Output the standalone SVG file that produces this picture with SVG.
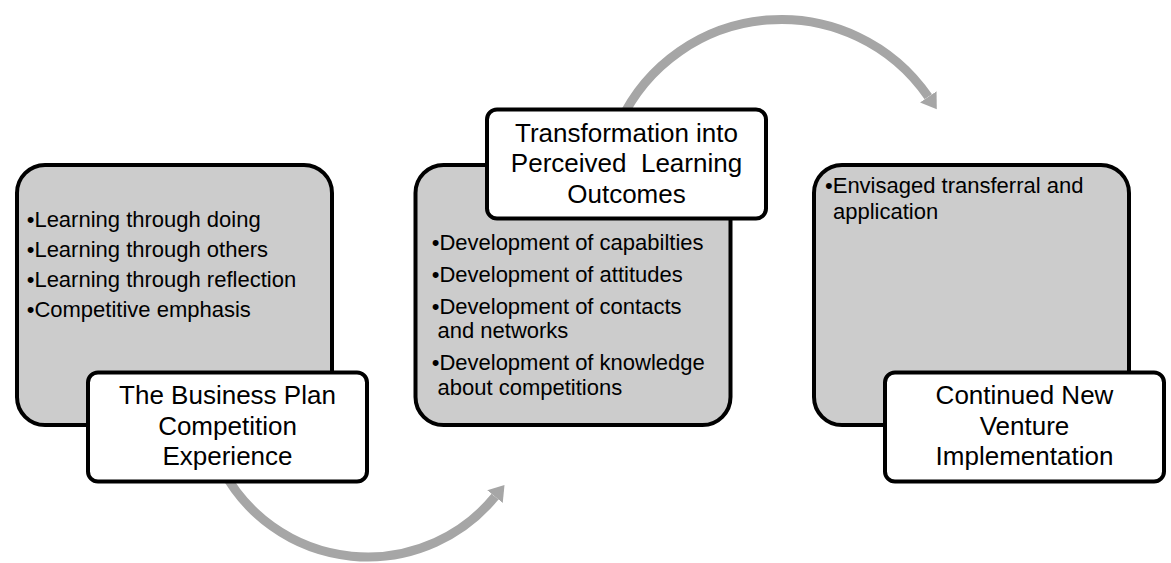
<svg xmlns="http://www.w3.org/2000/svg" width="1171" height="563" viewBox="0 0 1171 563">
<style>
  .panel { fill: #cccccc; stroke: #000000; stroke-width: 4; }
  .label { fill: #ffffff; stroke: #000000; stroke-width: 4; }
  .arc { fill: none; stroke: #a6a6a6; stroke-width: 9; }
  .title { font-family: "Liberation Sans", Arial, sans-serif; font-size: 26px; fill: #000000; text-anchor: middle; }
  .bullet { font-family: "Liberation Sans", Arial, sans-serif; font-size: 22px; fill: #000000; }
</style>
<defs>
  <marker id="head" markerUnits="userSpaceOnUse" markerWidth="16" markerHeight="22" refX="0" refY="10" orient="auto" viewBox="0 0 16 20">
    <path d="M0,0 L15,10 L0,20 Z" fill="#a6a6a6"/>
  </marker>
</defs>
<g id="connectors">
  <path class="arc" d="M222.5,469.7 A164.5,164.5 0 0 0 495,496.7" marker-end="url(#head)"/>
  <path class="arc" d="M619.9,122.4 A178.2,178.2 0 0 1 928.3,96.8" marker-end="url(#head)"/>
</g>
<g id="node-experience">
  <rect class="panel" x="17" y="165" width="315" height="260" rx="28"/>
  <text class="bullet" x="26.7" y="227">•Learning through doing</text>
  <text class="bullet" x="26.7" y="257">•Learning through others</text>
  <text class="bullet" x="26.7" y="287">•Learning through reflection</text>
  <text class="bullet" x="26.7" y="317">•Competitive emphasis</text>
  <rect class="label" x="88" y="372.5" width="279" height="109" rx="10"/>
  <text class="title" x="227.5" y="404">The Business Plan</text>
  <text class="title" x="227.5" y="434.5">Competition</text>
  <text class="title" x="227.5" y="465">Experience</text>
</g>
<g id="node-outcomes">
  <rect class="panel" x="415.5" y="165" width="315" height="260" rx="28"/>
  <text class="bullet" x="431.7" y="250">•Development of capabilties</text>
  <text class="bullet" x="431.7" y="282">•Development of attitudes</text>
  <text class="bullet" x="431.7" y="313.5">•Development of contacts</text>
  <text class="bullet" x="437.5" y="338">and networks</text>
  <text class="bullet" x="431.7" y="370">•Development of knowledge</text>
  <text class="bullet" x="437.5" y="395">about competitions</text>
  <rect class="label" x="487" y="109.5" width="279" height="109" rx="10"/>
  <text class="title" x="626.5" y="141.5">Transformation into</text>
  <text class="title" x="626.5" y="172" xml:space="preserve">Perceived  Learning</text>
  <text class="title" x="626.5" y="202.5">Outcomes</text>
</g>
<g id="node-implementation">
  <rect class="panel" x="814" y="165" width="315" height="260" rx="28"/>
  <text class="bullet" x="825" y="193">•Envisaged transferral and</text>
  <text class="bullet" x="833" y="219">application</text>
  <rect class="label" x="885" y="372.5" width="279" height="109" rx="10"/>
  <text class="title" x="1024.5" y="404">Continued New</text>
  <text class="title" x="1024.5" y="434.5">Venture</text>
  <text class="title" x="1024.5" y="465">Implementation</text>
</g>
</svg>
